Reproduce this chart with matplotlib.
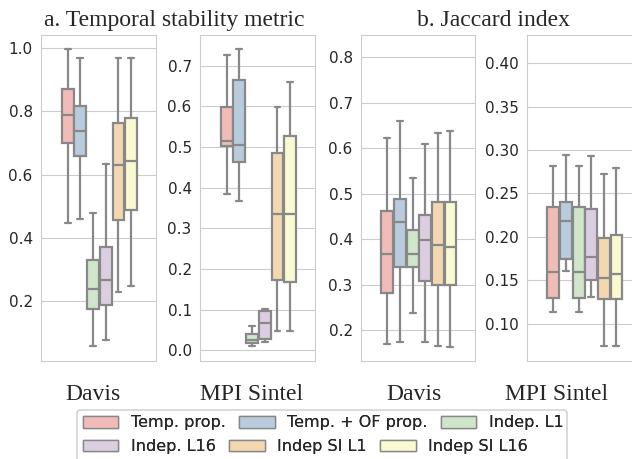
#!/usr/bin/env python3

import matplotlib
matplotlib.use("Agg")
import matplotlib.pyplot as plt
from matplotlib.patches import Patch, FancyBboxPatch
import numpy as np
import seaborn as sns

methods = ["Temp. prop.", "Temp. + OF prop.", "Indep. L1",
           "Indep. L16", "Indep SI L1", "Indep SI L16"]

# a. temporal stability, Davis
davis_ts_lo = [0.447, 0.461, 0.059, 0.077, 0.230, 0.248]
davis_ts_q1 = [0.700, 0.658, 0.177, 0.190, 0.458, 0.490]
davis_ts_med = [0.790, 0.738, 0.239, 0.269, 0.632, 0.642]
davis_ts_q3 = [0.872, 0.816, 0.330, 0.372, 0.764, 0.780]
davis_ts_hi = [0.998, 0.970, 0.479, 0.635, 0.970, 0.970]

# a. temporal stability, MPI Sintel
sintel_ts_lo = [0.385, 0.368, 0.012, 0.020, 0.047, 0.047]
sintel_ts_q1 = [0.503, 0.464, 0.019, 0.029, 0.172, 0.169]
sintel_ts_med = [0.516, 0.505, 0.025, 0.067, 0.336, 0.336]
sintel_ts_q3 = [0.598, 0.666, 0.041, 0.096, 0.486, 0.528]
sintel_ts_hi = [0.726, 0.741, 0.060, 0.102, 0.598, 0.659]

# b. jaccard, Davis
davis_j_lo = [0.169, 0.174, 0.238, 0.174, 0.165, 0.162]
davis_j_q1 = [0.281, 0.338, 0.339, 0.308, 0.299, 0.299]
davis_j_med = [0.367, 0.437, 0.367, 0.398, 0.387, 0.382]
davis_j_q3 = [0.462, 0.488, 0.420, 0.453, 0.482, 0.481]
davis_j_hi = [0.623, 0.660, 0.535, 0.609, 0.633, 0.638]

# b. jaccard, MPI Sintel
sintel_j_lo = [0.113, 0.161, 0.113, 0.131, 0.074, 0.074]
sintel_j_q1 = [0.130, 0.175, 0.130, 0.150, 0.128, 0.128]
sintel_j_med = [0.160, 0.218, 0.160, 0.177, 0.153, 0.157]
sintel_j_q3 = [0.234, 0.240, 0.234, 0.232, 0.199, 0.202]
sintel_j_hi = [0.282, 0.294, 0.282, 0.293, 0.272, 0.279]

W, H = 632, 459
GRAY = "#888888"


def make_stats(lo, q1, med, q3, hi):
    stats = []
    for i in range(len(lo)):
        stats.append({"whislo": lo[i], "q1": q1[i], "med": med[i],
                      "q3": q3[i], "whishi": hi[i], "fliers": []})
    return stats


def box_panel(fig, left, right, stats, ylim, yticks, fmt, colors):
    ax = fig.add_axes([left / W, (H - 361) / H, (right - left) / W, (361 - 34.5) / H])
    pos = 0.008 + (np.arange(6) - 2.5) * 0.1106
    art = ax.bxp(stats, positions=pos, widths=0.104, patch_artist=True,
                 showfliers=False, manage_ticks=False,
                 boxprops={"edgecolor": GRAY, "linewidth": 1.6},
                 whiskerprops={"color": GRAY, "linewidth": 1.6},
                 capprops={"color": GRAY, "linewidth": 1.6},
                 medianprops={"color": GRAY, "linewidth": 1.6})
    for patch, c in zip(art["boxes"], colors):
        patch.set_facecolor(c)
    ax.set_xlim(-0.5, 0.5)
    ax.set_ylim(*ylim)
    ax.set_xticks([])
    ax.set_yticks(yticks)
    ax.set_yticklabels([fmt.format(t) for t in yticks], fontsize=11)
    ax.tick_params(axis="y", length=0, pad=6)
    return ax


def main():
    sns.set_style("whitegrid")
    colors = [sns.desaturate(c, 0.75) for c in sns.color_palette("Pastel1", 6)]

    fig = plt.figure(figsize=(W / 100, H / 100), dpi=100)

    box_panel(fig, 41, 156,
              make_stats(davis_ts_lo, davis_ts_q1, davis_ts_med, davis_ts_q3, davis_ts_hi),
              (0.012, 1.043), [0.2, 0.4, 0.6, 0.8, 1.0], "{:.1f}", colors)
    box_panel(fig, 200, 315,
              make_stats(sintel_ts_lo, sintel_ts_q1, sintel_ts_med, sintel_ts_q3, sintel_ts_hi),
              (-0.026, 0.777), [0.0, 0.1, 0.2, 0.3, 0.4, 0.5, 0.6, 0.7], "{:.1f}", colors)
    box_panel(fig, 361, 475,
              make_stats(davis_j_lo, davis_j_q1, davis_j_med, davis_j_q3, davis_j_hi),
              (0.132, 0.85), [0.2, 0.3, 0.4, 0.5, 0.6, 0.7, 0.8], "{:.1f}", colors)
    box_panel(fig, 527, 641,
              make_stats(sintel_j_lo, sintel_j_q1, sintel_j_med, sintel_j_q3, sintel_j_hi),
              (0.057, 0.433), [0.10, 0.15, 0.20, 0.25, 0.30, 0.35, 0.40], "{:.2f}", colors)

    serif = {"family": "Liberation Serif", "size": 17}
    fig.text(174 / W, 1 - 26 / H, "a. Temporal stability metric", ha="center", va="baseline", **serif)
    fig.text(493 / W, 1 - 26 / H, "b. Jaccard index", ha="center", va="baseline", **serif)
    for x, name in [(93, "Davis"), (252, "MPI Sintel"), (414, "Davis"), (557, "MPI Sintel")]:
        fig.text(x / W, 1 - 400 / H, name, ha="center", va="baseline", **serif)

    # legend: frame + one row per legend so each row packs on its own
    frame = FancyBboxPatch((77 / W, -0.01), (567 - 77) / W, (H - 410) / H + 0.01,
                           boxstyle="round,pad=0,rounding_size=0.006",
                           transform=fig.transFigure, facecolor="white",
                           edgecolor="0.8", linewidth=1.0)
    fig.add_artist(frame)
    handles = [Patch(facecolor=c, edgecolor=GRAY, linewidth=1.0) for c in colors]
    for row, yc in [(0, 423), (1, 446.5)]:
        idx = range(row * 3, row * 3 + 3)
        leg = fig.legend([handles[i] for i in idx], [methods[i] for i in idx],
                         ncol=3, loc="center left", bbox_to_anchor=(83 / W, 1 - yc / H),
                         borderaxespad=0, borderpad=0, frameon=False, fontsize=11.5,
                         handlelength=2.2, columnspacing=0.85, handletextpad=0.8)
        fig.add_artist(leg)

    plt.savefig("out.png", dpi=100)


if __name__ == "__main__":
    main()
